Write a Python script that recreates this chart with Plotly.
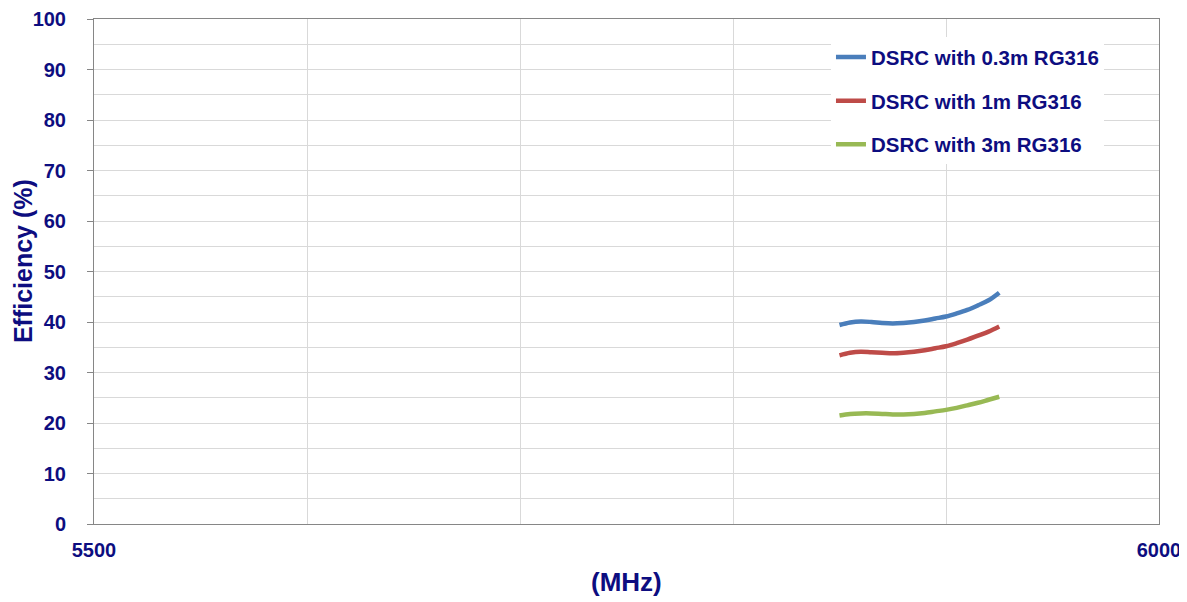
import plotly.graph_objects as go

# ---- Data ----

freq_mhz = [5850, 5855, 5860, 5865, 5870, 5875, 5880, 5885, 5890, 5895, 5900, 5905, 5910, 5915, 5920, 5925]

eff_03m = [39.4, 39.9, 40.1, 40.0, 39.8, 39.7, 39.8, 40.0, 40.3, 40.7, 41.1, 41.7, 42.4, 43.3, 44.3, 45.8]
eff_1m = [33.4, 33.9, 34.1, 34.0, 33.9, 33.8, 33.9, 34.1, 34.4, 34.8, 35.2, 35.8, 36.5, 37.3, 38.1, 39.1]
eff_3m = [21.5, 21.8, 21.9, 21.9, 21.8, 21.7, 21.7, 21.8, 22.0, 22.3, 22.6, 23.0, 23.5, 24.0, 24.6, 25.2]

series_names = ["DSRC with 0.3m RG316", "DSRC with 1m RG316", "DSRC with 3m RG316"]
series_colors = ["#4a7ebb", "#be4b48", "#98b954"]

x_tickvals = [5500, 5600, 5700, 5800, 5900, 6000]
x_ticktext = ["5500", "", "", "", "", "6000"]

NAVY = "#0d0d80"
FONT = dict(family="Liberation Sans, Arial, sans-serif", color=NAVY, weight="bold")


fig = go.Figure()

for i, (name, y, color) in enumerate(zip(series_names, [eff_03m, eff_1m, eff_3m], series_colors)):
    fig.add_trace(go.Scatter(
        x=freq_mhz,
        y=y,
        name=name,
        mode="lines",
        line=dict(color=color, width=4.5, shape="spline"),
        legendgroup=f"g{i}",
    ))

# page body has an 8px margin, so the figure is sized/offset to compensate
fig.update_layout(
    width=1179,
    height=594,
    margin=dict(l=86, r=28, t=11, b=78, autoexpand=False),
    paper_bgcolor="white",
    plot_bgcolor="white",
    font=dict(**FONT, size=20),
    showlegend=True,
    legend=dict(
        x=0.692, xanchor="left",
        y=0.964, yanchor="top",
        bgcolor="white",
        font=dict(**FONT, size=20.5),
        tracegroupgap=14,
        itemwidth=30,
    ),
    xaxis=dict(
        range=[5500, 6000],
        tickvals=x_tickvals,
        ticktext=x_ticktext,
        ticks="",
        ticklabelstandoff=8,
        showgrid=True,
        gridcolor="#d9d9d9",
        showline=True,
        mirror=True,
        linecolor="#868686",
        linewidth=1,
        zeroline=False,
        automargin=False,
    ),
    yaxis=dict(
        range=[0, 100],
        dtick=10,
        ticks="outside",
        ticklen=6,
        tickcolor="#868686",
        ticklabelstandoff=17,
        showgrid=True,
        gridcolor="#d9d9d9",
        minor=dict(dtick=5, showgrid=True, gridcolor="#d9d9d9", ticks=""),
        showline=True,
        mirror=True,
        linecolor="#868686",
        linewidth=1,
        zeroline=False,
        automargin=False,
    ),
    annotations=[
        dict(
            text="Efficiency (%)",
            xref="paper", yref="paper",
            x=-0.066, y=0.52,
            xanchor="center", yanchor="middle",
            textangle=-90,
            showarrow=False,
            font=dict(**FONT, size=25),
        ),
        dict(
            text="(MHz)",
            xref="paper", yref="paper",
            x=0.5, y=-0.115,
            xanchor="center", yanchor="middle",
            showarrow=False,
            font=dict(**FONT, size=26),
        ),
    ],
)

fig.write_html("out.html")
